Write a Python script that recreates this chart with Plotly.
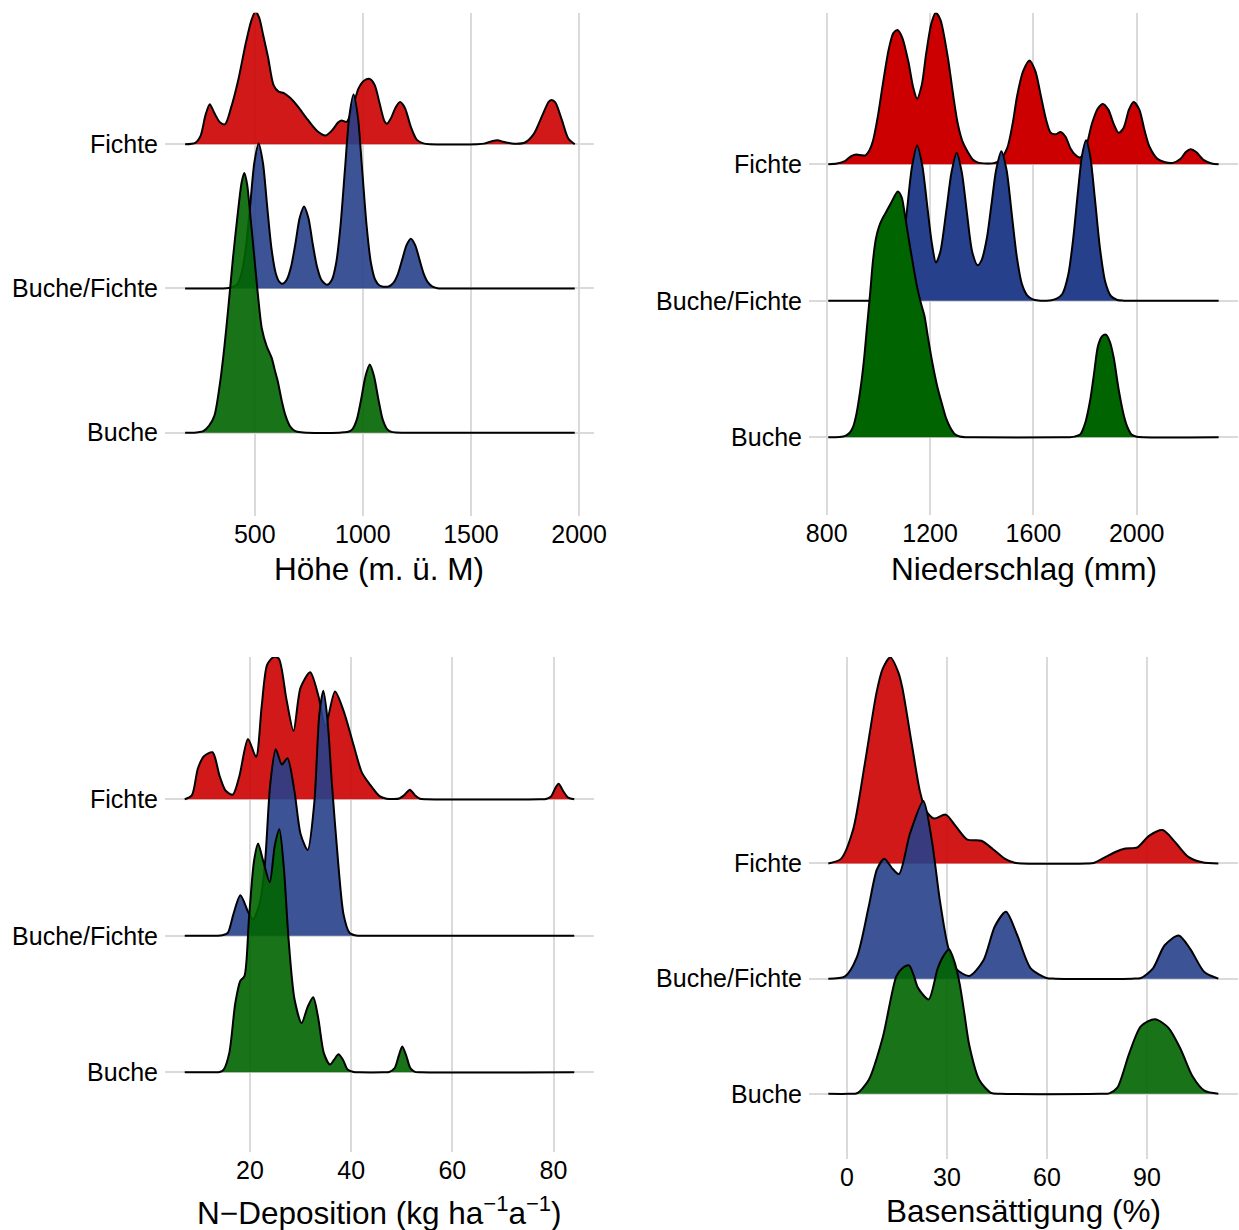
import plotly.graph_objects as go

# ---------------- data ----------------
categories = ["Buche", "Buche/Fichte", "Fichte"]

# Panel 1: Höhe (m ü. M) -- heights are scaled densities in row units
hoehe_fichte_x = [178, 225, 250, 272, 292, 312, 340, 363, 390, 423, 460, 485, 503, 520, 540, 562, 587, 610, 635,
                  665, 700, 745, 790, 828, 860, 885, 901, 925, 952, 980, 1005, 1032, 1055, 1078, 1100, 1112, 1130,
                  1150, 1172, 1195, 1222, 1250, 1280, 1310, 1530, 1560, 1600, 1623, 1650, 1700, 1750, 1790, 1830,
                  1860, 1873, 1890, 1920, 1950, 1980]
hoehe_fichte_h = [0, 0.01, 0.06, 0.2, 0.278, 0.22, 0.15, 0.139, 0.25, 0.44, 0.71, 0.86, 0.92, 0.88, 0.75, 0.6,
                  0.41, 0.365, 0.355, 0.32, 0.26, 0.17, 0.09, 0.06, 0.1, 0.15, 0.165, 0.155, 0.25, 0.387, 0.44,
                  0.452, 0.41, 0.28, 0.16, 0.142, 0.18, 0.25, 0.292, 0.25, 0.12, 0.03, 0.006, 0, 0, 0.004, 0.022,
                  0.027, 0.017, 0.004, 0.012, 0.07, 0.2, 0.295, 0.306, 0.29, 0.17, 0.04, 0]
hoehe_mix_x = [178, 355, 380, 398, 418, 438, 458, 478, 498, 518, 538, 558, 578, 598, 614, 629, 648, 668, 688, 708,
               728, 748, 768, 788, 808, 834, 857, 877, 897, 917, 937, 957, 977, 997, 1017, 1037, 1057, 1077, 1094,
               1122, 1142, 1162, 1182, 1202, 1222, 1242, 1262, 1282, 1302, 1322, 1345, 1370, 1980]
hoehe_mix_h = [0, 0, 0.003, 0.01, 0.026, 0.098, 0.27, 0.56, 0.87, 1.005, 0.87, 0.56, 0.27, 0.1, 0.045, 0.032, 0.06,
               0.15, 0.31, 0.49, 0.568, 0.49, 0.31, 0.15, 0.06, 0.025, 0.06, 0.18, 0.44, 0.82, 1.19, 1.345, 1.19,
               0.82, 0.44, 0.18, 0.06, 0.02, 0.012, 0.015, 0.04, 0.1, 0.2, 0.3, 0.345, 0.3, 0.2, 0.1, 0.04, 0.012,
               0.002, 0, 0]
hoehe_buche_x = [178, 220, 240, 262, 290, 314, 340, 360, 378, 400, 420, 440, 452, 465, 480, 496, 515, 533, 555, 578,
                 595, 606, 625, 642, 665, 688, 715, 740, 890, 912, 932, 952, 972, 992, 1012, 1032, 1052, 1072, 1092,
                 1112, 1132, 1155, 1180, 1980]
hoehe_buche_h = [0, 0, 0.003, 0.01, 0.05, 0.12, 0.35, 0.6, 0.87, 1.22, 1.5, 1.74, 1.8, 1.72, 1.5, 1.25, 0.95, 0.72,
                 0.6, 0.52, 0.42, 0.36, 0.22, 0.12, 0.04, 0.01, 0.002, 0, 0, 0.002, 0.006, 0.025, 0.09, 0.23, 0.39,
                 0.472, 0.39, 0.23, 0.09, 0.025, 0.005, 0.001, 0, 0]

# Panel 2: Niederschlag (mm)
nied_fichte_x = [806, 840, 872, 895, 915, 935, 950, 965, 979, 998, 1017, 1040, 1058, 1074, 1092, 1116, 1135, 1150,
                 1168, 1185, 1205, 1222, 1240, 1269, 1290, 1307, 1325, 1346, 1365, 1384, 1420, 1450, 1470, 1499,
                 1520, 1537, 1560, 1585, 1608, 1629, 1650, 1667, 1688, 1705, 1725, 1743, 1762, 1781, 1800, 1827,
                 1850, 1869, 1890, 1910, 1930, 1950, 1970, 1988, 2010, 2030, 2049, 2080, 2110, 2140, 2170, 2190,
                 2209, 2230, 2260, 2290, 2317]
nied_fichte_h = [0, 0.005, 0.025, 0.06, 0.072, 0.066, 0.065, 0.1, 0.17, 0.35, 0.583, 0.84, 0.96, 0.983, 0.93,
                 0.752, 0.56, 0.48, 0.58, 0.81, 1.03, 1.11, 1.06, 0.78, 0.5, 0.3, 0.17, 0.09, 0.035, 0.014, 0.006,
                 0.01, 0.03, 0.12, 0.3, 0.5, 0.68, 0.76, 0.68, 0.5, 0.32, 0.23, 0.22, 0.237, 0.2, 0.118, 0.07, 0.05,
                 0.1, 0.3, 0.41, 0.442, 0.4, 0.3, 0.23, 0.27, 0.4, 0.456, 0.4, 0.25, 0.13, 0.04, 0.014, 0.01, 0.04,
                 0.09, 0.11, 0.09, 0.03, 0.006, 0]
nied_mix_x = [806, 980, 1000, 1030, 1050, 1070, 1090, 1110, 1130, 1150, 1170, 1190, 1207, 1223, 1240, 1263, 1283,
              1303, 1323, 1343, 1363, 1384, 1400, 1420, 1438, 1456, 1476, 1496, 1516, 1536, 1556, 1576, 1598, 1620,
              1650, 1670, 1690, 1712, 1735, 1755, 1772, 1788, 1804, 1820, 1838, 1858, 1878, 1900, 1925, 1950,
              1975, 2317]
nied_mix_h = [0, 0, 0.001, 0.008, 0.035, 0.12, 0.33, 0.65, 0.98, 1.138, 0.99, 0.68, 0.42, 0.28, 0.36, 0.66, 0.94,
              1.085, 0.94, 0.64, 0.36, 0.26, 0.3, 0.46, 0.71, 0.96, 1.096, 0.96, 0.64, 0.32, 0.12, 0.04, 0.01,
              0.002, 0.001, 0.004, 0.015, 0.05, 0.19, 0.47, 0.79, 1.06, 1.175, 1.06, 0.75, 0.38, 0.14, 0.035,
              0.006, 0.001, 0, 0]
nied_buche_x = [806, 850, 872, 890, 902, 915, 933, 945, 956, 968, 979, 990, 1002, 1015, 1030, 1050, 1075, 1090,
                1101, 1116, 1132, 1150, 1165, 1178, 1193, 1208, 1227, 1246, 1262, 1277, 1295, 1315, 1340, 1365,
                1715, 1740, 1760, 1781, 1800, 1820, 1835, 1850, 1866, 1881, 1896, 1911, 1930, 1950, 1965, 1980,
                2000, 2025, 2317]
nied_buche_h = [0, 0.002, 0.01, 0.035, 0.076, 0.17, 0.386, 0.58, 0.81, 1.05, 1.29, 1.45, 1.54, 1.6, 1.65, 1.72,
                1.8, 1.76, 1.65, 1.47, 1.29, 1.1, 0.98, 0.893, 0.72, 0.555, 0.38, 0.245, 0.14, 0.076, 0.025, 0.006,
                0.001, 0, 0, 0.001, 0.005, 0.02, 0.1, 0.273, 0.47, 0.668, 0.74, 0.752, 0.7, 0.583, 0.35, 0.16, 0.07,
                0.02, 0.004, 0, 0]

# Panel 3: N-Deposition (kg ha-1 a-1)
ndep_fichte_x = [7.1, 8.5, 9.7, 10.9, 12.6, 14.0, 15.2, 16.6, 17.9, 19.6, 21.2, 22.3, 23.4, 24.7, 25.7, 27.2, 28.6,
                 30.0, 31.9, 33.5, 34.9, 36.8, 38.5, 40.5, 42.1, 43.6, 45.6, 47.0, 48.4, 49.5, 50.5, 51.6, 52.6,
                 53.6, 54.8, 77.3, 78.5, 79.5, 80.2, 81.0, 81.9, 82.9, 84.1]
ndep_fichte_h = [0, 0.028, 0.225, 0.315, 0.344, 0.169, 0.062, 0.034, 0.169, 0.442, 0.31, 0.676, 0.986, 1.042,
                 1.03, 0.732, 0.501, 0.817, 0.93, 0.76, 0.535, 0.789, 0.648, 0.394, 0.197, 0.113, 0.023, 0.004,
                 0.001, 0.005, 0.03, 0.07, 0.03, 0.004, 0, 0, 0.002, 0.02, 0.07, 0.113, 0.06, 0.012, 0]
ndep_mix_x = [7.1, 13.5, 14.5, 15.6, 16.7, 18.1, 19.7, 20.6, 22.0, 23.0, 24.0, 25.1, 26.3, 27.4, 28.8, 30.0, 31.4,
              32.7, 33.7, 34.5, 35.3, 36.2, 37.4, 38.5, 39.7, 41.0, 42.3, 84.1]
ndep_mix_h = [0, 0, 0.003, 0.02, 0.155, 0.296, 0.169, 0.12, 0.25, 0.55, 1.11, 1.366, 1.254, 1.30, 1.056, 0.746,
              0.628, 0.97, 1.62, 1.794, 1.59, 1.11, 0.549, 0.155, 0.02, 0.002, 0, 0]
ndep_buche_x = [7.1, 13.0, 14.0, 14.8, 15.9, 17.1, 18.1, 18.9, 19.8, 20.8, 21.6, 22.6, 23.9, 24.9, 25.8, 26.7, 27.6,
                28.8, 30.2, 31.4, 32.5, 33.5, 34.6, 35.8, 36.6, 37.5, 38.4, 39.3, 40.5, 41.6, 46.4, 47.5, 48.6,
                49.4, 50.1, 50.9, 51.7, 52.6, 53.7, 84.1]
ndep_buche_h = [0, 0, 0.002, 0.02, 0.14, 0.507, 0.67, 0.704, 1.127, 1.549, 1.676, 1.549, 1.394, 1.66, 1.78, 1.493,
                0.986, 0.535, 0.36, 0.479, 0.549, 0.394, 0.14, 0.056, 0.09, 0.132, 0.09, 0.02, 0.002, 0, 0, 0.002,
                0.03, 0.12, 0.189, 0.12, 0.03, 0.003, 0, 0]

# Panel 4: Basensättigung (%)
bs_fichte_x = [-5.6, -1.8, 1.8, 5.3, 8.9, 10.7, 13.0, 15.4, 16.6, 19.5, 21.9, 23.7, 26.1, 29.6, 32.6, 36.1, 40.3,
               43.8, 47.4, 50.3, 52.5, 72.0, 74.0, 77.6, 80.5, 83.5, 87.1, 90.6, 94.7, 98.3, 102.4, 106.6, 111.4]
bs_fichte_h = [0, 0.04, 0.29, 0.858, 1.49, 1.69, 1.79, 1.66, 1.526, 1.025, 0.624, 0.457, 0.39, 0.424, 0.324, 0.207,
               0.197, 0.124, 0.04, 0.006, 0, 0, 0.004, 0.057, 0.1, 0.13, 0.14, 0.24, 0.29, 0.19, 0.057, 0.01, 0]
bs_mix_x = [-5.6, -0.6, 3.0, 6.5, 9.0, 11.2, 13.5, 15.6, 18.9, 22.9, 25.5, 27.8, 30.2, 32.6, 36.7, 40.9, 44.4, 47.7,
            50.9, 55.1, 59.8, 62.5, 85.5, 88.2, 91.8, 95.3, 99.5, 103.0, 107.2, 111.4]
bs_mix_h = [0, 0.02, 0.19, 0.624, 0.95, 1.042, 0.96, 0.908, 1.26, 1.543, 1.19, 0.69, 0.29, 0.09, 0.023, 0.157,
            0.457, 0.58, 0.39, 0.09, 0.006, 0, 0, 0.006, 0.09, 0.29, 0.374, 0.257, 0.057, 0]
bs_buche_x = [-5.6, 0.5, 3.0, 6.5, 10.7, 14.8, 16.6, 18.6, 20.0, 21.3, 24.5, 27.2, 29.0, 30.6, 32.2, 33.8, 35.2,
              36.7, 39.7, 43.2, 46.0, 76.0, 78.7, 81.1, 84.7, 88.2, 92.4, 96.5, 100.1, 103.6, 107.2, 111.4]
bs_buche_h = [0, 0, 0.005, 0.12, 0.487, 1.02, 1.09, 1.115, 1.03, 0.92, 0.82, 1.088, 1.2, 1.255, 1.15, 0.955, 0.7,
              0.42, 0.12, 0.008, 0, 0, 0.004, 0.053, 0.354, 0.588, 0.648, 0.571, 0.387, 0.154, 0.027, 0]

# axis ticks / titles
hoehe_ticks = [500, 1000, 1500, 2000]
nied_ticks = [800, 1200, 1600, 2000]
ndep_ticks = [20, 40, 60, 80]
bs_ticks = [0, 30, 60, 90]

# ---------------- styling ----------------
W, H = 1239, 1230
FONT = "Liberation Sans, Arial, Helvetica, sans-serif"
RED, BLUE, GREEN = (204, 0, 0), (39, 64, 139), (0, 100, 0)
GRID = "#dadada"
TICK_SIZE = 25


def px_x(a, b):
    return [a / W, b / W]


def px_y(top, bottom):
    return [1 - bottom / H, 1 - top / H]


panels = [
    dict(n="", xdom=px_x(165, 594), ydom=px_y(12.7, 516), xr=[85, 2069], yr=[0.422, 3.912],
         ticks=hoehe_ticks, alpha=0.9, title="Höhe (m. ü. M)", ty=569,
         curves=[(hoehe_fichte_x, hoehe_fichte_h, 3, RED), (hoehe_mix_x, hoehe_mix_h, 2, BLUE),
                 (hoehe_buche_x, hoehe_buche_h, 1, GREEN)]),
    dict(n="2", xdom=px_x(809, 1238), ydom=px_y(12.7, 515), xr=[731.5, 2392], yr=[0.431, 4.11],
         ticks=nied_ticks, alpha=1.0, title="Niederschlag (mm)", ty=569,
         curves=[(nied_fichte_x, nied_fichte_h, 3, RED), (nied_mix_x, nied_mix_h, 2, BLUE),
                 (nied_buche_x, nied_buche_h, 1, GREEN)]),
    dict(n="3", xdom=px_x(165, 594), ydom=px_y(657, 1151.7), xr=[3.2, 88.0], yr=[0.418, 4.042],
         ticks=ndep_ticks, alpha=0.9, title="N\u2212Deposition (kg ha<sup>\u22121</sup>a<sup>\u22121</sup>)",
         ty=1210.5,
         curves=[(ndep_fichte_x, ndep_fichte_h, 3, RED), (ndep_mix_x, ndep_mix_h, 2, BLUE),
                 (ndep_buche_x, ndep_buche_h, 1, GREEN)]),
    dict(n="4", xdom=px_x(809, 1238), ydom=px_y(657, 1159), xr=[-11.4, 117.3], yr=[0.434, 4.793],
         ticks=bs_ticks, alpha=0.9, title="Basensättigung (%)", ty=1210.5,
         curves=[(bs_fichte_x, bs_fichte_h, 3, RED), (bs_mix_x, bs_mix_h, 2, BLUE),
                 (bs_buche_x, bs_buche_h, 1, GREEN)]),
]

fig = go.Figure()
layout = dict(width=W, height=H, margin=dict(l=0, r=0, t=0, b=0, pad=0, autoexpand=False),
              paper_bgcolor="white", plot_bgcolor="white", showlegend=False,
              font=dict(family=FONT, color="black"))
annotations = []

for p in panels:
    n = p["n"]
    for xs, hs, base, col in p["curves"]:
        ys = [base + h for h in hs]
        fig.add_trace(go.Scatter(
            x=xs, y=ys, mode="lines", fill="toself",
            fillcolor=f"rgba({col[0]},{col[1]},{col[2]},{p['alpha']})",
            line=dict(color="black", width=2, shape="spline", smoothing=0.75),
            xaxis="x" + n, yaxis="y" + n, hoverinfo="skip"))
    layout["xaxis" + n] = dict(domain=p["xdom"], range=p["xr"], anchor="y" + n, tickmode="array",
                               tickvals=p["ticks"], ticktext=[str(t) for t in p["ticks"]],
                               showgrid=True, gridcolor=GRID, gridwidth=1.8, zeroline=False,
                               showline=False, ticks="", automargin=False,
                               tickfont=dict(size=TICK_SIZE, color="black", family=FONT),
                               ticklabelstandoff=1, fixedrange=True)
    layout["yaxis" + n] = dict(domain=p["ydom"], range=p["yr"], anchor="x" + n, tickmode="array",
                               tickvals=[1, 2, 3], ticktext=categories, showgrid=True, gridcolor=GRID,
                               gridwidth=1.8, zeroline=False, showline=False, ticks="", automargin=False,
                               tickfont=dict(size=TICK_SIZE, color="black", family=FONT),
                               ticklabelstandoff=6, fixedrange=True)
    cx = (p["xdom"][0] + p["xdom"][1]) / 2
    annotations.append(dict(text=p["title"], x=cx, y=1 - p["ty"] / H, xref="paper", yref="paper",
                            xanchor="center", yanchor="middle", showarrow=False,
                            font=dict(size=31.5, color="black", family=FONT)))

layout["annotations"] = annotations
fig.update_layout(**layout)
fig.write_html("out.html", config={"displayModeBar": False},
               post_script="document.body.style.margin='0px';document.body.style.overflow='hidden';")
